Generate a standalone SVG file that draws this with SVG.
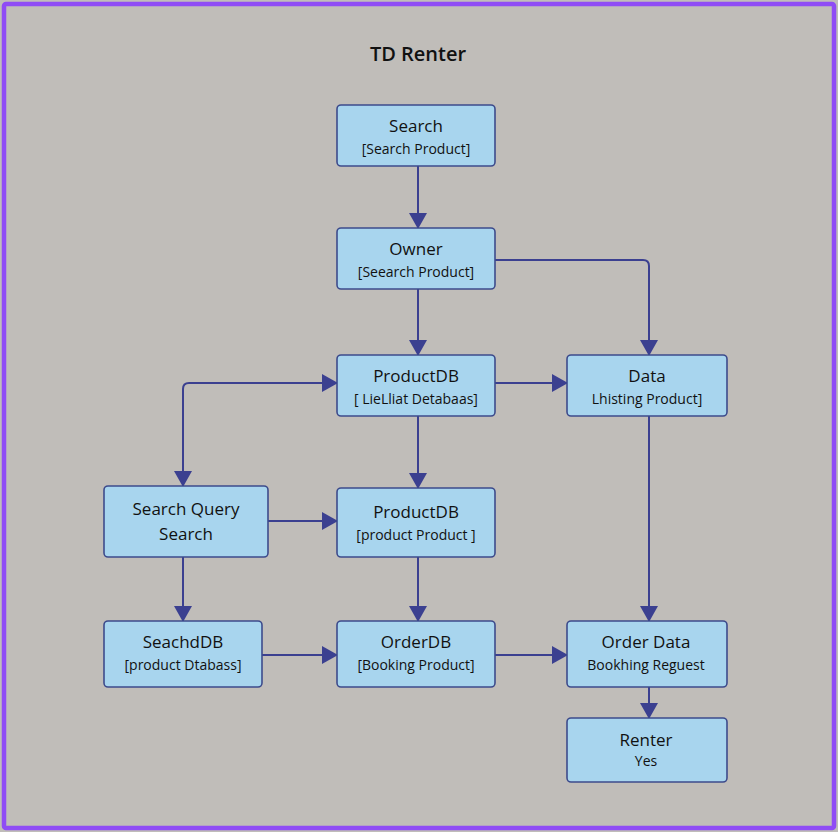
<svg xmlns="http://www.w3.org/2000/svg" width="838" height="832" viewBox="0 0 838 832">
<style>
.n rect{fill:#a8d5ee;stroke:#3d4b8c;stroke-width:1.6}
.t{font-family:"Open Sans","Liberation Sans",sans-serif;fill:#111;text-anchor:middle;font-weight:500}
.h{font-size:17px}
.s{font-size:14px}
.c path{fill:none;stroke:#3b4090;stroke-width:2;stroke-linejoin:round}
</style>
<defs>
<marker id="a" markerWidth="22" markerHeight="18" refX="15" refY="9" orient="auto" markerUnits="userSpaceOnUse">
<path d="M0,0 L16,9 L0,18 Z" fill="#3b4090"/>
</marker>
</defs>
<rect x="0" y="0" width="838" height="832" fill="#c0bdb9"/>
<rect x="4" y="4" width="830" height="824" fill="none" stroke="#8f4cf5" stroke-width="4.5" rx="2"/>
<text class="t" x="418" y="61" style="font-size:20px;font-weight:600">TD Renter</text>
<g class="c">
<path d="M418,166 V228" marker-end="url(#a)"/>
<path d="M418,289 V355" marker-end="url(#a)"/>
<path d="M495,260 H643 Q649,260 649,266 V355" marker-end="url(#a)"/>
<path d="M495,383 H567" marker-end="url(#a)"/>
<path d="M183,486 V389 Q183,383 189,383 H337" marker-end="url(#a)"/>
<path d="M183,400 V486" marker-end="url(#a)"/>
<path d="M418,416 V488" marker-end="url(#a)"/>
<path d="M268,521 H337" marker-end="url(#a)"/>
<path d="M649,416 V621" marker-end="url(#a)"/>
<path d="M183,557 V621" marker-end="url(#a)"/>
<path d="M418,557 V621" marker-end="url(#a)"/>
<path d="M262,655 H337" marker-end="url(#a)"/>
<path d="M495,655 H567" marker-end="url(#a)"/>
<path d="M649,687 V718" marker-end="url(#a)"/>
</g>
<g class="n" id="search"><rect x="337" y="105" width="158" height="61" rx="4"/><text class="t h" x="416" y="132">Search</text><text class="t s" x="416" y="154">[Search Product]</text></g>
<g class="n" id="owner"><rect x="337" y="228" width="158" height="61" rx="4"/><text class="t h" x="416" y="255">Owner</text><text class="t s" x="416" y="277">[Seearch Product]</text></g>
<g class="n" id="productdb1"><rect x="337" y="355" width="158" height="61" rx="4"/><text class="t h" x="416" y="382">ProductDB</text><text class="t s" x="416" y="404">[ LieLliat Detabaas]</text></g>
<g class="n" id="data"><rect x="567" y="355" width="160" height="61" rx="4"/><text class="t h" x="647" y="382">Data</text><text class="t s" x="647" y="404">Lhisting Product]</text></g>
<g class="n" id="searchquery"><rect x="104" y="486" width="164" height="71" rx="4"/><text class="t h" x="186" y="515">Search Query</text><text class="t h" x="186" y="540">Search</text></g>
<g class="n" id="productdb2"><rect x="337" y="488" width="158" height="69" rx="4"/><text class="t h" x="416" y="518">ProductDB</text><text class="t s" x="416" y="540">[product Product ]</text></g>
<g class="n" id="seachddb"><rect x="104" y="621" width="158" height="66" rx="4"/><text class="t h" x="183" y="648">SeachdDB</text><text class="t s" x="183" y="670">[product Dtabass]</text></g>
<g class="n" id="orderdb"><rect x="337" y="621" width="158" height="66" rx="4"/><text class="t h" x="416" y="648">OrderDB</text><text class="t s" x="416" y="670">[Booking Product]</text></g>
<g class="n" id="orderdata"><rect x="567" y="621" width="160" height="66" rx="4"/><text class="t h" x="646" y="648">Order Data</text><text class="t s" x="646" y="670">Bookhing Reguest</text></g>
<g class="n" id="renter"><rect x="567" y="718" width="160" height="64" rx="4"/><text class="t h" x="646" y="746">Renter</text><text class="t s" x="646" y="766">Yes</text></g>
</svg>
